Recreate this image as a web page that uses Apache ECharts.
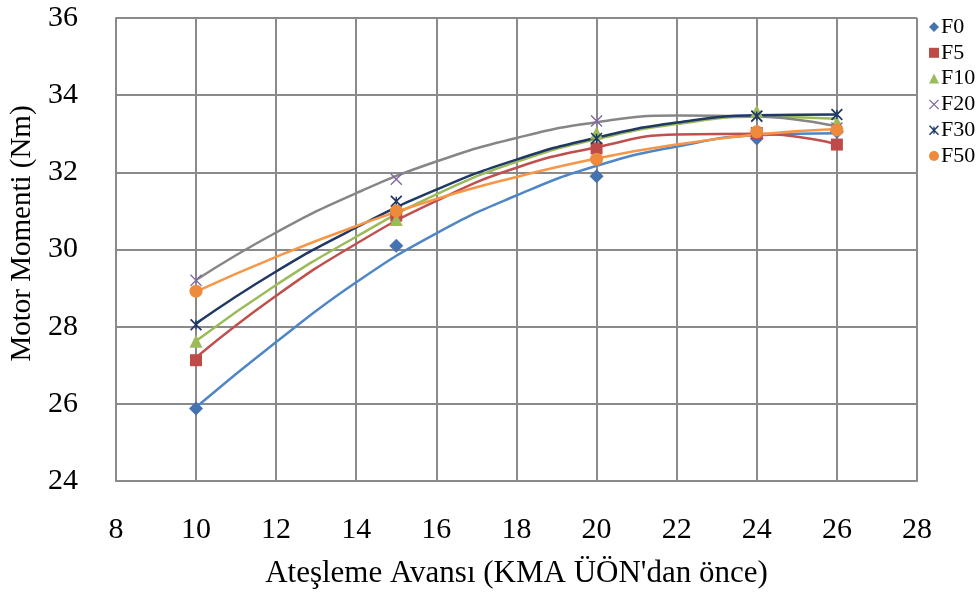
<!DOCTYPE html>
<html>
<head>
<meta charset="utf-8">
<script src="https://cdn.jsdelivr.net/npm/echarts@6/dist/echarts.min.js"></script>
<style>
html,body{margin:0;padding:0;background:#fff;}
#chart{width:979px;height:594px;}
</style>
</head>
<body>
<div id="chart"></div>
<script>
// Measured points (x = ignition advance, y = torque)
var xValues = [10, 15, 20, 24, 26];
var F0  = [25.88, 30.1, 31.9, 32.88, 33.05];
var F5  = [27.13, 30.88, 32.62, 33.02, 32.72];
var F10 = [27.62, 30.78, 33.02, 33.58, 33.3];
var F20 = [29.2, 31.82, 33.33, 33.45, 33.15];
var F30 = [28.05, 31.25, 32.88, 33.46, 33.5];
var F50 = [28.92, 31.0, 32.34, 33.05, 33.1];

// Trend curves at these x positions
var trendX = [10, 12, 14, 16, 18, 20, 22, 24, 26];
var T0  = [25.91, 27.6, 29.15, 30.42, 31.4, 32.17, 32.67, 32.96, 33.01];
var T5  = [27.2, 28.8, 30.15, 31.26, 32.12, 32.65, 32.98, 33.0, 32.73];
var T10 = [27.63, 29.08, 30.33, 31.43, 32.27, 32.86, 33.25, 33.44, 33.39];
var T20 = [29.21, 30.44, 31.46, 32.28, 32.89, 33.3, 33.47, 33.45, 33.19];
var T30 = [28.08, 29.43, 30.57, 31.55, 32.33, 32.9, 33.29, 33.48, 33.5];
var T50 = [28.91, 29.81, 30.61, 31.31, 31.88, 32.36, 32.72, 32.98, 33.12];

var names = ['F0', 'F5', 'F10', 'F20', 'F30', 'F50'];
var xAxisTitle = "Ateşleme Avansı (KMA ÜÖN'dan önce)";
var yAxisTitle = 'Motor Momenti (Nm)';

var FONT = '"Liberation Serif","Times New Roman",serif';

var X_PATH = 'path://M0,0.8 L0.8,0 L5,4.2 L9.2,0 L10,0.8 L5.8,5 L10,9.2 L9.2,10 L5,5.8 L0.8,10 L0,9.2 L4.2,5 Z';
var STAR_PATH = 'path://M0,1 L1,0 L5,4 L9,0 L10,1 L6,5 L10,9 L9,10 L5,6 L1,10 L0,9 L4,5 Z M4.4,1.2 L5.6,1.2 L5.6,8.8 L4.4,8.8 Z';

var measured = [F0, F5, F10, F20, F30, F50];
var trends = [T0, T5, T10, T20, T30, T50];
var markerColors = ['#4572B0', '#BE4B48', '#9BBB59', '#8064A2', '#1F3864', '#EE8A3C'];
var trendColors = ['#4F86C6', '#C0504D', '#9BBB59', '#868686', '#1F3864', '#F79646'];
var symbols = ['diamond', 'rect', 'triangle', X_PATH, STAR_PATH, 'circle'];
var symbolSizes = [14, 12, 13, 12, 12, 13];

function pairs(xs, ys) {
  return xs.map(function (x, i) { return [x, ys[i]]; });
}

var series = [];
trends.forEach(function (t, i) {
  series.push({
    name: names[i] + '_trend',
    type: 'line',
    data: pairs(trendX, t),
    smooth: 0.5,
    showSymbol: false,
    silent: true,
    lineStyle: { color: trendColors[i], width: 2.5 },
    z: 2
  });
});
measured.forEach(function (m, i) {
  series.push({
    name: names[i],
    type: 'scatter',
    data: pairs(xValues, m),
    symbol: symbols[i],
    symbolSize: symbolSizes[i],
    itemStyle: { color: markerColors[i], opacity: 1 },
    z: 3
  });
});

var chart = echarts.init(document.getElementById('chart'), null, { renderer: 'canvas' });
chart.setOption({
  animation: false,
  backgroundColor: '#ffffff',
  grid: { left: 114, right: 62, top: 18, bottom: 110, containLabel: false },
  legend: {
    data: names,
    orient: 'vertical',
    left: 924,
    top: 11,
    itemWidth: 10,
    itemHeight: 10,
    itemGap: 3.8,
    textStyle: { fontFamily: FONT, fontSize: 22, color: '#000', lineHeight: 20, padding: [0, 0, 0, -3] }
  },
  xAxis: {
    type: 'value',
    min: 8, max: 28, interval: 2,
    name: xAxisTitle,
    nameLocation: 'middle',
    nameGap: 77,
    nameTextStyle: { fontFamily: FONT, fontSize: 31, color: '#000' },
    axisLine: { show: true, lineStyle: { color: '#8a8a8a', width: 2 } },
    axisTick: { show: false },
    axisLabel: { fontFamily: FONT, fontSize: 30, color: '#000', margin: 34 },
    splitLine: { show: true, lineStyle: { color: '#8a8a8a', width: 2 } }
  },
  yAxis: {
    type: 'value',
    min: 24, max: 36, interval: 2,
    name: yAxisTitle,
    nameLocation: 'middle',
    nameGap: 74,
    nameTextStyle: { fontFamily: FONT, fontSize: 29, color: '#000', padding: [0, 0, 0, 32] },
    axisLine: { show: true, lineStyle: { color: '#8a8a8a', width: 2 } },
    axisTick: { show: false },
    axisLabel: { fontFamily: FONT, fontSize: 30, color: '#000', margin: 38 },
    splitLine: { show: true, lineStyle: { color: '#8a8a8a', width: 2 } }
  },
  series: series
});
</script>
</body>
</html>
